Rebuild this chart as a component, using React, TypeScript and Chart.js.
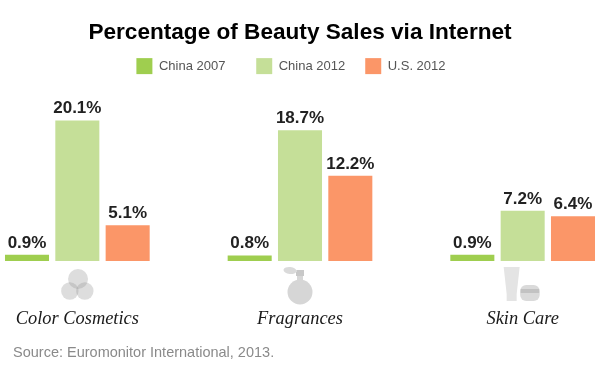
import React, { useEffect, useRef } from "react";
import { Chart, registerables } from "chart.js";

Chart.register(...registerables);

const categories = ["Color Cosmetics", "Fragrances", "Skin Care"];
const china2007 = [0.9, 0.8, 0.9];
const china2012 = [20.1, 18.7, 7.2];
const us2012 = [5.1, 12.2, 6.4];
const titleText = "Percentage of Beauty Sales via Internet";
const sourceText = "Source: Euromonitor International, 2013.";
const seriesNames = ["China 2007   ", "China 2012", "U.S. 2012     "];
const colors = ["#9FCE4F", "#C5DF98", "#FB9668"];

const valueLabels = {
  id: "valueLabels",
  afterDatasetsDraw(chart: any) {
    const ctx = chart.ctx;
    ctx.save();
    ctx.font = "bold 17px 'Liberation Sans'";
    ctx.fillStyle = "#222222";
    ctx.textAlign = "center";
    ctx.textBaseline = "alphabetic";
    chart.data.datasets.forEach((ds: any, i: number) => {
      chart.getDatasetMeta(i).data.forEach((bar: any, j: number) => {
        ctx.fillText(ds.data[j].toFixed(1) + "%", bar.x, bar.y - 7);
      });
    });
    ctx.restore();
  },
};

const decor = {
  id: "decor",
  afterDraw(chart: any) {
    const ctx = chart.ctx;
    const x = chart.scales.x;
    const base = chart.scales.y.getPixelForValue(0);
    const c0 = x.getPixelForValue(0);
    const c1 = x.getPixelForValue(1);
    const c2 = x.getPixelForValue(2);
    ctx.save();
    // venn icon
    ctx.fillStyle = "rgba(150,150,150,0.32)";
    [[0.7, 18, 10], [-7.5, 30, 8.7], [7.5, 30, 8.7]].forEach(([dx, dy, r]) => {
      ctx.beginPath();
      ctx.arc(c0 + dx, base + dy, r, 0, Math.PI * 2);
      ctx.fill();
    });
    // perfume icon
    ctx.fillStyle = "#D6D6D6";
    ctx.beginPath();
    ctx.arc(c1, base + 31, 12.5, 0, Math.PI * 2);
    ctx.fill();
    ctx.fillRect(c1 - 3, base + 14, 6, 8);
    ctx.fillStyle = "#C8C8C8";
    ctx.fillRect(c1 - 4, base + 9, 8, 6);
    ctx.fillStyle = "#DADADA";
    ctx.beginPath();
    ctx.ellipse(c1 - 10, base + 9.5, 6.5, 3.5, 0.1, 0, Math.PI * 2);
    ctx.fill();
    ctx.fillRect(c1 - 6, base + 9, 3, 2);
    // skin care icon
    ctx.fillStyle = "#E4E4E4";
    ctx.beginPath();
    ctx.moveTo(c2 - 19, base + 6);
    ctx.lineTo(c2 - 3, base + 6);
    ctx.lineTo(c2 - 6, base + 33);
    ctx.lineTo(c2 - 6, base + 40);
    ctx.lineTo(c2 - 16, base + 40);
    ctx.lineTo(c2 - 16, base + 33);
    ctx.closePath();
    ctx.fill();
    ctx.fillStyle = "#DADADA";
    ctx.beginPath();
    ctx.roundRect(c2 - 2.5, base + 24, 19.5, 16, 6);
    ctx.fill();
    ctx.fillStyle = "#C2C2C2";
    ctx.fillRect(c2 - 2, base + 28, 18.5, 4);
    // source line
    ctx.font = "14.5px 'Liberation Sans'";
    ctx.fillStyle = "#8A8A8A";
    ctx.textAlign = "left";
    ctx.textBaseline = "alphabetic";
    ctx.fillText(sourceText, 47, 357);
    ctx.restore();
  },
};

export default function App() {
  const ref = useRef<HTMLCanvasElement>(null);
  useEffect(() => {
    const chart = new Chart(ref.current!, {
      type: "bar",
      data: {
        labels: categories,
        datasets: [china2007, china2012, us2012].map((data, i) => ({
          label: seriesNames[i],
          data,
          backgroundColor: colors[i],
          categoryPercentage: 0.678,
          barPercentage: 0.875,
        })),
      },
      options: {
        responsive: false,
        animation: false,
        layout: { padding: { top: 19 } },
        plugins: {
          title: {
            display: true,
            text: titleText,
            color: "#000000",
            font: { family: "'Liberation Sans'", size: 22.6, weight: "bold" },
            padding: { top: 0, bottom: -8 },
          },
          legend: {
            display: true,
            labels: {
              boxWidth: 16,
              boxHeight: 16,
              padding: 20,
              color: "#555555",
              font: { family: "'Liberation Sans'", size: 13 },
            },
          },
          tooltip: { enabled: false },
        },
        scales: {
          x: {
            grid: { display: false },
            border: { display: false },
            afterFit(axis: any) {
              axis.height = 117;
            },
            ticks: {
              padding: 39,
              color: "#1A1A1A",
              maxRotation: 0,
              font: { family: "'Liberation Serif'", size: 18.4, style: "italic" },
            },
          },
          y: {
            display: false,
            min: 0,
            max: 25.3,
          },
        },
      },
      plugins: [valueLabels, decor],
    } as any);
    return () => chart.destroy();
  }, []);
  return (
    <div style={{ position: "fixed", left: 0, top: 0, width: 600, height: 378, overflow: "hidden", background: "#fff" }}>
      <canvas ref={ref} width={668} height={378} style={{ position: "absolute", left: -34, top: 0, display: "block" }} />
    </div>
  );
}
